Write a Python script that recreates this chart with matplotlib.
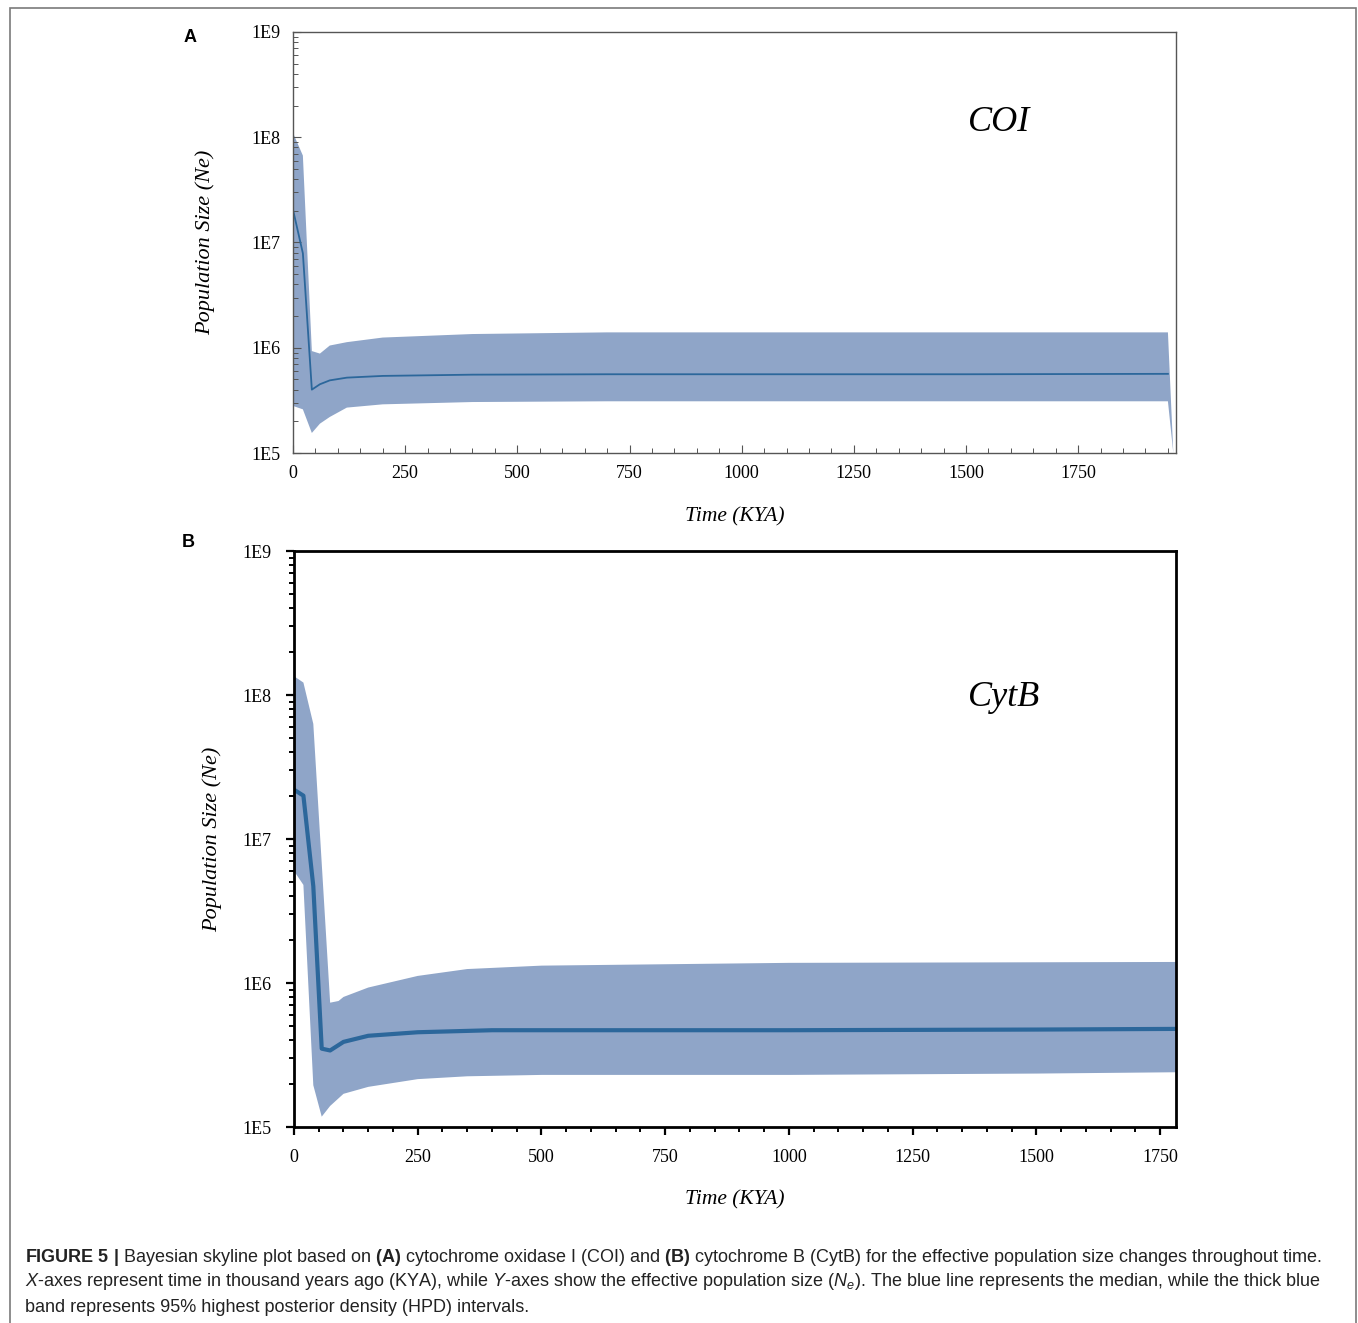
import matplotlib
matplotlib.use('Agg')
import matplotlib.pyplot as plt
from matplotlib.patches import Rectangle
from matplotlib.ticker import LogLocator, MultipleLocator, FixedLocator
import numpy as np

# ---- data (KYA, Ne) ----
# panel A : COI
xA_up = [0, 22, 42, 60, 82, 120, 200, 400, 700, 1000, 1500, 1950, 1962]
upA = [1.1e8, 6.7e7, 9.3e5, 8.8e5, 1.05e6, 1.13e6, 1.25e6, 1.35e6, 1.4e6, 1.4e6, 1.4e6, 1.4e6, 1e5]
xA_lo = [0, 22, 42, 60, 82, 120, 200, 400, 700, 1000, 1500, 1950, 1962]
loA = [2.8e5, 2.6e5, 1.55e5, 1.9e5, 2.2e5, 2.7e5, 2.9e5, 3.05e5, 3.1e5, 3.1e5, 3.1e5, 3.1e5, 1e5]
xA_med = [0, 22, 42, 60, 82, 120, 200, 400, 700, 1000, 1500, 1950]
medA = [2.05e7, 7.9e6, 4.0e5, 4.5e5, 4.9e5, 5.2e5, 5.4e5, 5.55e5, 5.6e5, 5.6e5, 5.6e5, 5.65e5]

# panel B : CytB
xB_up = [0, 19, 39, 73, 90, 100, 150, 250, 350, 500, 1000, 1782]
upB = [1.35e8, 1.22e8, 6.3e7, 7.3e5, 7.5e5, 8.0e5, 9.3e5, 1.12e6, 1.25e6, 1.32e6, 1.38e6, 1.4e6]
xB_lo = [0, 19, 39, 56, 73, 100, 150, 250, 350, 500, 1000, 1500, 1782]
loB = [6e6, 4.8e6, 1.95e5, 1.18e5, 1.4e5, 1.7e5, 1.9e5, 2.15e5, 2.25e5, 2.3e5, 2.3e5, 2.35e5, 2.4e5]
xB_med = [0, 19, 39, 56, 73, 100, 150, 250, 400, 1000, 1500, 1782]
medB = [2.2e7, 2.0e7, 4.7e6, 3.5e5, 3.4e5, 3.9e5, 4.3e5, 4.55e5, 4.7e5, 4.7e5, 4.75e5, 4.8e5]

xticks = [0, 250, 500, 750, 1000, 1250, 1500, 1750]
yticks = [1e5, 1e6, 1e7, 1e8, 1e9]
ylabels = ['1E5', '1E6', '1E7', '1E8', '1E9']

band_col = '#8fa5c8'
line_col = '#2c679b'
serif = 'Liberation Serif'

plt.rcParams['mathtext.fontset'] = 'custom'
plt.rcParams['mathtext.rm'] = 'Liberation Sans'
plt.rcParams['mathtext.it'] = 'Liberation Sans:italic'
plt.rcParams['mathtext.bf'] = 'Liberation Sans:bold'

fig = plt.figure(figsize=(13.58, 13.23), dpi=100)

# outer frame
fig.add_artist(Rectangle((10/1358, -0.01), (1356-10)/1358, 1-8/1323+0.01,
                         transform=fig.transFigure, fill=False, ec='#7a7a7a', lw=1.2))


def style_axes(ax, xmax, inward, frame_col, frame_lw, pad):
    ax.set_yscale('log')
    ax.set_xlim(0, xmax)
    ax.set_ylim(1e5, 1e9)
    ax.xaxis.set_major_locator(FixedLocator(xticks))
    ax.xaxis.set_minor_locator(MultipleLocator(50))
    ax.yaxis.set_major_locator(FixedLocator(yticks))
    ax.yaxis.set_minor_locator(LogLocator(base=10, subs=np.arange(2, 10)))
    ax.set_yticklabels(ylabels)
    ax.set_xticklabels([str(t) for t in xticks])
    d = 'in' if inward else 'out'
    ax.tick_params(which='major', direction=d, length=6, width=frame_lw*0.8, color=frame_col,
                   top=False, right=False, labelsize=13, pad=pad)
    ax.tick_params(which='minor', direction=d, length=3.5, width=frame_lw*0.7, color=frame_col,
                   top=False, right=False)
    for lab in ax.get_xticklabels() + ax.get_yticklabels():
        lab.set_family(serif)
    for s in ax.spines.values():
        s.set_color(frame_col)
        s.set_linewidth(frame_lw)


# ---- panel A ----
axA = fig.add_axes([293/1358, 1-453/1323, (1176-293)/1358, (453-32)/1323])
style_axes(axA, 1968, True, '#555555', 1.0, 9)
axA.fill(np.r_[xA_up, xA_lo[::-1]], np.r_[upA, loA[::-1]], color=band_col, lw=0)
axA.plot(xA_med, medA, color=line_col, lw=1.3)
axA.text(0.8, 0.785, 'COI', transform=axA.transAxes, family=serif, style='italic',
         fontsize=26, ha='center', va='center')
axA.set_ylabel('Population Size (Ne)', family=serif, style='italic', fontsize=16, labelpad=26)
axA.set_xlabel('Time (KYA)', family=serif, style='italic', fontsize=15.5, labelpad=18)
fig.text(190/1358, 1-37/1323, 'A', family='Liberation Sans', weight='bold', fontsize=13,
         ha='center', va='center')

# ---- panel B ----
axB = fig.add_axes([294/1358, 1-1127/1323, (1176-294)/1358, (1127-551)/1323])
style_axes(axB, 1782, False, 'black', 2.0, 10)
axB.fill(np.r_[xB_up, xB_lo[::-1]], np.r_[upB, loB[::-1]], color=band_col, lw=0)
axB.plot(xB_med, medB, color=line_col, lw=3)
axB.text(0.805, 0.745, 'CytB', transform=axB.transAxes, family=serif, style='italic',
         fontsize=26, ha='center', va='center')
axB.set_ylabel('Population Size (Ne)', family=serif, style='italic', fontsize=16, labelpad=15)
axB.set_xlabel('Time (KYA)', family=serif, style='italic', fontsize=15.5, labelpad=17)
fig.text(188/1358, 1-543/1323, 'B', family='Liberation Sans', weight='bold', fontsize=13,
         ha='center', va='center')

# ---- caption ----
cap = [
    r'$\bf{FIGURE\ 5\ |}$ Bayesian skyline plot based on $\bf{(A)}$ cytochrome oxidase I (COI) and $\bf{(B)}$ '
    r'cytochrome B (CytB) for the effective population size changes throughout time.',
    r'$\it{X}$-axes represent time in thousand years ago (KYA), while $\it{Y}$-axes show the effective population size '
    r'($\it{N_e}$). The blue line represents the median, while the thick blue',
    r'band represents 95% highest posterior density (HPD) intervals.',
]
for i, line in enumerate(cap):
    fig.text(25/1358, 1-(1257+25*i)/1323, line, family='Liberation Sans', fontsize=12.98,
             color='#222222', ha='left', va='center')

plt.savefig('out.png', dpi=100)
